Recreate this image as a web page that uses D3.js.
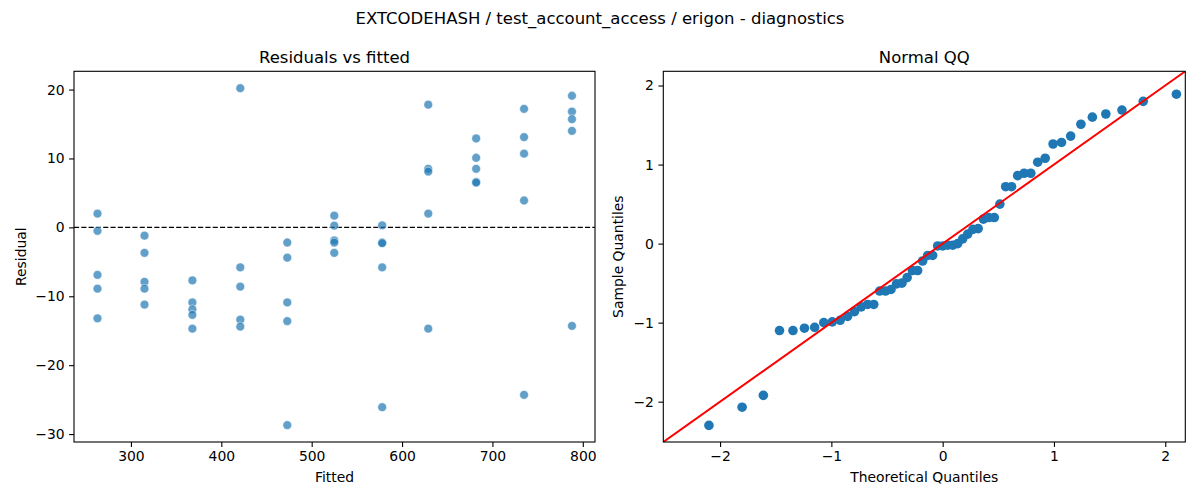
<!DOCTYPE html>
<html>
<head>
<meta charset="utf-8">
<script src="https://cdn.jsdelivr.net/npm/d3@7"></script>
<style>
  body { margin: 0; background: #fff; }
  text { font-family: "DejaVu Sans", sans-serif; fill: #000; }
</style>
</head>
<body>
<div id="chart"></div>
<script>
// Fitted levels (x of each column) and the residuals read at each level
var fittedLevels = [263, 315, 368, 421, 473, 525, 578, 629, 682, 735, 788];
var residualsByLevel = [
  [2.0, -0.5, -6.9, -8.9, -13.2],
  [-1.2, -3.7, -7.9, -8.9, -11.2],
  [-7.7, -10.9, -11.9, -12.7, -14.7],
  [20.2, -5.8, -8.6, -13.4, -14.4],
  [-2.2, -4.4, -10.9, -13.6, -28.7],
  [1.7, 0.25, -1.9, -2.2, -3.7],
  [0.3, -2.2, -2.3, -5.8, -26.1],
  [17.8, 8.5, 8.1, 2.0, -14.7],
  [12.9, 10.1, 8.5, 6.6, 6.5],
  [17.2, 13.1, 10.7, 3.9, -24.3],
  [19.1, 16.8, 15.7, 14.0, -14.3]
];

// Normal QQ: theoretical quantiles and sample quantiles
var theoretical = [-2.100, -1.802, -1.611, -1.466, -1.345, -1.242, -1.150, -1.068, -0.992, -0.921,
  -0.854, -0.792, -0.732, -0.674, -0.619, -0.566, -0.514, -0.464, -0.415, -0.366,
  -0.319, -0.272, -0.225, -0.180, -0.135, -0.090, -0.045, 0.000, 0.045, 0.090,
  0.135, 0.180, 0.225, 0.272, 0.319, 0.366, 0.415, 0.464, 0.514, 0.566,
  0.619, 0.674, 0.732, 0.792, 0.854, 0.921, 0.992, 1.068, 1.150, 1.242,
  1.345, 1.466, 1.611, 1.802, 2.100];
var sample = [-2.30, -2.07, -1.92, -1.10, -1.10, -1.07, -1.06, -1.00, -0.99, -0.97,
  -0.92, -0.86, -0.80, -0.77, -0.77, -0.60, -0.60, -0.58, -0.51, -0.50,
  -0.43, -0.34, -0.34, -0.22, -0.15, -0.15, -0.03, -0.03, -0.02, -0.02,
  0.00, 0.06, 0.12, 0.18, 0.19, 0.31, 0.33, 0.33, 0.50, 0.72,
  0.72, 0.86, 0.89, 0.89, 1.03, 1.08, 1.26, 1.28, 1.36, 1.51,
  1.60, 1.64, 1.69, 1.80, 1.89];

var residTicks = [-30, -20, -10, 0, 10, 20];
var fittedTicks = [300, 400, 500, 600, 700, 800];
var qqTicks = [-2, -1, 0, 1, 2];

var svgWidth = 1200;
var svgHeight = 500;
var plotTop = 71.3, plotBottom = 442;

var svg = d3.select("#chart")
  .append("svg")
  .attr("width", svgWidth)
  .attr("height", svgHeight);

// Figure title
svg.append("text")
  .attr("x", 600)
  .attr("y", 24)
  .attr("text-anchor", "middle")
  .style("font-size", "16.5px")
  .text("EXTCODEHASH / test_account_access / erigon - diagnostics");

function drawFrame(x0, x1, title, xLabel, yLabel, xScale, yScale, xTicks, yTicks, yLabelX) {
  var g = svg.append("g");

  g.append("g")
    .attr("transform", `translate(0, ${plotBottom})`)
    .call(d3.axisBottom(xScale).tickValues(xTicks).tickSize(4.9).tickPadding(4.5).tickFormat(d3.format("")))
    .call(a => a.select(".domain").remove())
    .call(a => a.selectAll("line").attr("stroke-width", 1.1))
    .call(a => a.selectAll("text").style("font-size", "13.9px").style("font-family", "DejaVu Sans"));

  g.append("g")
    .attr("transform", `translate(${x0}, 0)`)
    .call(d3.axisLeft(yScale).tickValues(yTicks).tickSize(4.9).tickPadding(4.5).tickFormat(d3.format("")))
    .call(a => a.select(".domain").remove())
    .call(a => a.selectAll("line").attr("stroke-width", 1.1))
    .call(a => a.selectAll("text").style("font-size", "13.9px").style("font-family", "DejaVu Sans"));

  g.append("text")
    .attr("x", (x0 + x1) / 2)
    .attr("y", 62.5)
    .attr("text-anchor", "middle")
    .style("font-size", "16.5px")
    .text(title);

  g.append("text")
    .attr("x", (x0 + x1) / 2)
    .attr("y", 482)
    .attr("text-anchor", "middle")
    .style("font-size", "13.9px")
    .text(xLabel);

  g.append("text")
    .attr("transform", `translate(${yLabelX}, ${(plotTop + plotBottom) / 2}) rotate(-90)`)
    .attr("text-anchor", "middle")
    .style("font-size", "13.9px")
    .text(yLabel);

  return g;
}

function drawBorder(x0, x1) {
  svg.append("rect")
    .attr("x", x0)
    .attr("y", plotTop)
    .attr("width", x1 - x0)
    .attr("height", plotBottom - plotTop)
    .attr("fill", "none")
    .attr("stroke", "#000")
    .attr("stroke-width", 1.1);
}

// ---- Residuals vs fitted ----
var lx0 = 74, lx1 = 595;
var xFit = d3.scaleLinear().domain([237, 813.5]).range([lx0, lx1]);
var yRes = d3.scaleLinear().domain([-31.15, 22.65]).range([plotBottom, plotTop]);

drawFrame(lx0, lx1, "Residuals vs fitted", "Fitted", "Residual", xFit, yRes, fittedTicks, residTicks, 25.5);

var residPoints = [];
fittedLevels.forEach(function(f, i) {
  residualsByLevel[i].forEach(function(r) {
    residPoints.push({ fitted: f, resid: r });
  });
});

svg.append("clipPath").attr("id", "clipLeft")
  .append("rect").attr("x", lx0).attr("y", plotTop).attr("width", lx1 - lx0).attr("height", plotBottom - plotTop);

// zero reference line
svg.append("line")
  .attr("x1", lx0)
  .attr("x2", lx1)
  .attr("y1", yRes(0))
  .attr("y2", yRes(0))
  .attr("stroke", "#000")
  .attr("stroke-width", 1.3)
  .attr("stroke-dasharray", "5.1,2.2");

svg.append("g")
  .attr("clip-path", "url(#clipLeft)")
  .selectAll("circle")
  .data(residPoints)
  .enter()
  .append("circle")
  .attr("cx", d => xFit(d.fitted))
  .attr("cy", d => yRes(d.resid))
  .attr("r", 4.4)
  .attr("fill", "#1f77b4")
  .attr("fill-opacity", 0.7)
  .attr("stroke", "#fff")
  .attr("stroke-opacity", 0.7)
  .attr("stroke-width", 0.7);

drawBorder(lx0, lx1);

// ---- Normal QQ ----
var rx0 = 663.3, rx1 = 1185.3;
var qqDomain = [-2.51, 2.18];
var xQ = d3.scaleLinear().domain(qqDomain).range([rx0, rx1]);
var yQ = d3.scaleLinear().domain(qqDomain).range([plotBottom, plotTop]);

drawFrame(rx0, rx1, "Normal QQ", "Theoretical Quantiles", "Sample Quantiles", xQ, yQ, qqTicks, qqTicks, 623);

svg.append("clipPath").attr("id", "clipRight")
  .append("rect").attr("x", rx0).attr("y", plotTop).attr("width", rx1 - rx0).attr("height", plotBottom - plotTop);

var qqPoints = theoretical.map((t, i) => ({ t: t, s: sample[i] }));

var qqGroup = svg.append("g").attr("clip-path", "url(#clipRight)");

qqGroup.selectAll("circle")
  .data(qqPoints)
  .enter()
  .append("circle")
  .attr("cx", d => xQ(d.t))
  .attr("cy", d => yQ(d.s))
  .attr("r", 4.8)
  .attr("fill", "#1f77b4");

// 45 degree line
qqGroup.append("line")
  .attr("x1", xQ(qqDomain[0]))
  .attr("y1", yQ(qqDomain[0]))
  .attr("x2", xQ(qqDomain[1]))
  .attr("y2", yQ(qqDomain[1]))
  .attr("stroke", "red")
  .attr("stroke-width", 2);

drawBorder(rx0, rx1);
</script>
</body>
</html>
